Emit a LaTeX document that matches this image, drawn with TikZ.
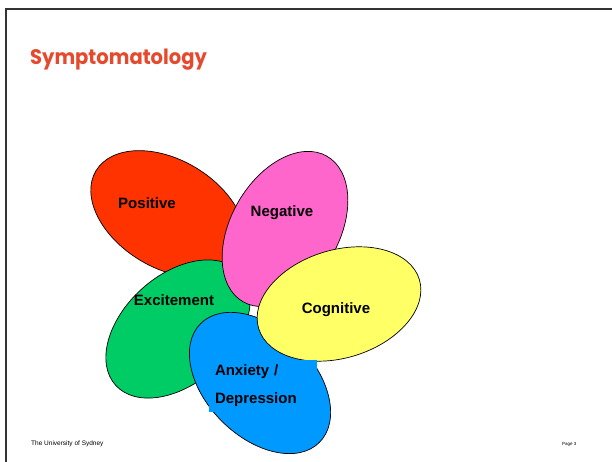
\documentclass[tikz,border=0pt]{standalone}
\usepackage{fontspec}
\setmainfont{Liberation Sans}
\newfontfamily\titlefont{Poppins}
\usetikzlibrary{shapes.geometric}
\definecolor{titlered}{HTML}{E64A2E}
\definecolor{petalred}{HTML}{FF3300}
\definecolor{petalpink}{HTML}{FF66CC}
\definecolor{petalyellow}{HTML}{FFFF66}
\definecolor{petalgreen}{HTML}{00CC66}
\definecolor{petalblue}{HTML}{0099FF}

\begin{document}
\begin{tikzpicture}[x=1pt,y=1pt,
	petal/.style={ellipse,draw=black,line width=0.7pt,minimum width=168pt,minimum height=108pt,inner sep=0pt},
	tag/.style={font=\fontsize{15}{18}\selectfont\bfseries}]
	\useasboundingbox (0,0) rectangle (612,462);
	
	%FRAME
	\coordinate (topleft) at (6,453);
	\coordinate (topright) at (612,453);
	\coordinate (bottomleft) at (6,0);
	\draw[black!80,line width=2.2pt] (topright) -- (topleft) -- (bottomleft);
	
	%TITLE
	\node[anchor=base west,inner sep=0pt,text=titlered,xscale=0.93,transform shape,font=\titlefont\bfseries\fontsize{21}{25}\selectfont] (title) at (30,397) {Symptomatology};
	
	%PETALS
	\node[petal,fill=petalred,rotate=-31] (positive) at (168,248) {};
	\node[petal,fill=petalgreen,rotate=42] (excitement) at (178,133) {};
	\node[petal,fill=petalpink,rotate=60] (negative) at (285,233) {};
	\node[petal,fill=petalblue,rotate=-45] (anxiety) at (260,79) {};
	\node[petal,fill=petalyellow,rotate=17] (cognitive) at (339,158) {};
	
	%LABELS
	\node[tag] (positivetext) at (147,259) {Positive};
	\node[tag] (negativetext) at (282,249) {Negative};
	\node[tag] (excitementtext) at (174,162) {Excitement};
	\node[tag] (cognitivetext) at (336,152) {Cognitive};
	\node[fill=petalblue,font=\fontsize{15}{28}\selectfont\bfseries,align=left,text width=96pt,inner xsep=6pt,minimum height=52pt] (anxietytext) at (263,76) {Anxiety /\\Depression};
	
	%FOOTER
	\node[anchor=base west,inner sep=0pt,font=\fontsize{6.5}{8}\selectfont] (university) at (31,16) {The University of Sydney};
	\node[anchor=base west,inner sep=0pt,font=\fontsize{4.5}{5}\selectfont] (page) at (562,16) {Page 3};
\end{tikzpicture}
\end{document}
